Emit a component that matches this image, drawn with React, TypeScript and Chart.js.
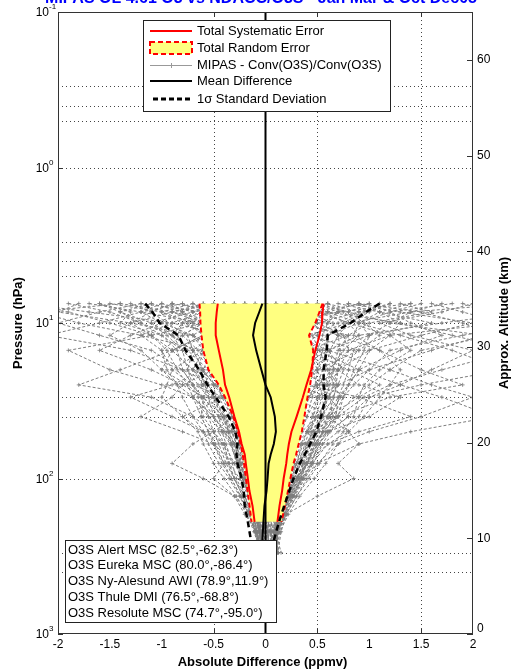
import React, { useEffect, useRef } from "react";
import { Chart, registerables } from "chart.js";

Chart.register(...registerables);

// ---- axis layout values ----
const xTicks = [-2, -1.5, -1, -0.5, 0, 0.5, 1, 1.5, 2];
const xGrid = [-0.5, 0.5, 1.5];
const pDecades = [0.1, 1, 10, 100, 1000];
const pDecadeExp = ["-1", "0", "1", "2", "3"];
const pGrid = [0.3, 0.4, 0.5, 1, 3, 4, 5, 10, 30, 40, 100, 300, 400];
const altTicks = [0, 10, 20, 30, 40, 50, 60];

const title = "MIPAS OL 4.61 O3 vs NDACC/O3S - Jan Mar & Oct Dec05";

// ---- mean difference and 1-sigma spread (ppmv) ----
const statP = [7.5, 8.5, 10, 12, 15, 20, 25, 30, 40, 50, 60, 70, 80, 100, 120, 150, 190, 250];
const meanDiff = [-0.03, -0.06, -0.1, -0.12, -0.09, -0.04, 0.0, 0.05, 0.09, 0.1, 0.08, 0.05, 0.03, 0.02, 0.01, -0.01, -0.02, -0.03];
const stdDev = [1.13, 1.03, 0.92, 0.72, 0.68, 0.6, 0.56, 0.53, 0.445, 0.39, 0.35, 0.33, 0.3, 0.25, 0.22, 0.19, 0.15, 0.11];

// ---- combined error estimates (ppmv) ----
const errP = [7.5, 8.5, 10, 12, 15, 20, 25, 30, 40, 50, 60, 70, 80, 100, 120, 150, 190];
const sysLow = [-0.46, -0.47, -0.48, -0.48, -0.45, -0.41, -0.39, -0.35, -0.3, -0.255, -0.23, -0.2, -0.19, -0.17, -0.155, -0.125, -0.105];
const sysHigh = [0.56, 0.55, 0.545, 0.52, 0.48, 0.44, 0.395, 0.36, 0.3, 0.25, 0.225, 0.21, 0.2, 0.175, 0.16, 0.135, 0.115];
const randLow = [-0.636, -0.63, -0.627, -0.617, -0.6, -0.55, -0.45, -0.39, -0.31, -0.265, -0.24, -0.22, -0.207, -0.188, -0.173, -0.154, -0.135];
const randHigh = [0.55, 0.52, 0.48, 0.42, 0.46, 0.45, 0.43, 0.405, 0.375, 0.35, 0.32, 0.295, 0.27, 0.24, 0.217, 0.188, 0.154];

// ---- individual collocated differences, MIPAS - Conv(O3S) (ppmv) ----
const profileP = [7.5, 8.5, 10, 12, 15, 20, 25, 30, 40, 50, 60, 80, 100, 130, 170, 220, 300];
const profiles = [
  [-1.9, -1.5, -1.2, -0.9, -0.7, -0.5, -0.3, -0.2, -0.15, -0.1, -0.05, -0.02, 0.0, 0.02, 0.05, 0.05, 0.06],
  [1.6, 1.9, 2.3, 1.2, 0.8, 0.6, 0.7, 0.5, 0.4, 0.3, 0.25, 0.2, 0.15, 0.1, 0.08, 0.1, 0.1],
  [-0.6, -0.8, -1.0, -1.3, -1.6, -1.1, -0.8, -0.6, -0.4, -0.3, -0.25, -0.2, -0.15, -0.1, -0.08, -0.05, -0.02],
  [0.9, 0.6, 0.4, 0.7, 1.1, 1.5, 1.9, 1.2, 0.7, 0.5, 0.4, 0.3, 0.2, 0.15, 0.1, 0.08, 0.12],
  [-1.4, -2.2, -1.8, -1.2, -0.6, -0.9, -0.7, -0.4, -0.2, -0.1, 0.0, 0.1, 0.05, 0.0, -0.03, 0.0, 0.02],
  [0.3, 0.1, -0.2, -0.1, 0.2, 0.4, 0.3, 0.6, 0.5, 0.35, 0.2, 0.1, 0.05, 0.08, 0.04, 0.02, 0.05],
  [-0.2, 0.3, 0.6, 0.5, 0.3, 0.2, 0.4, 0.9, 1.4, 0.9, 0.6, 0.4, 0.3, 0.2, 0.15, 0.1, 0.08],
  [2.4, 1.4, 0.8, 0.4, 0.1, -0.2, -0.4, -0.3, -0.1, 0.0, 0.1, 0.15, 0.1, 0.05, 0.02, 0.0, 0.03],
  [-1.0, -0.7, -0.5, -0.6, -0.9, -1.4, -1.8, -1.1, -0.7, -0.5, -0.4, -0.35, -0.25, -0.2, -0.12, -0.08, -0.05],
  [0.5, 0.8, 1.2, 2.1, 1.6, 1.0, 0.7, 0.6, 0.8, 0.6, 0.45, 0.3, 0.25, 0.18, 0.12, 0.1, 0.15],
  [-0.4, -0.3, 0.1, 0.3, 0.0, -0.3, -0.5, -0.6, -0.45, -0.3, -0.2, -0.15, -0.1, -0.05, 0.0, 0.02, 0.0],
  [1.2, 0.9, 0.5, 0.2, 0.5, 0.9, 1.3, 1.7, 2.2, 1.4, 0.9, 0.5, 0.35, 0.25, 0.15, 0.12, 0.1],
  [-2.3, -1.7, -0.9, -0.4, -0.2, 0.1, 0.2, 0.1, 0.0, -0.05, -0.1, -0.08, -0.05, -0.02, 0.0, 0.0, 0.02],
  [0.0, -0.5, -0.8, -0.5, -0.3, -0.1, 0.1, 0.3, 0.2, 0.15, 0.1, 0.05, 0.02, 0.0, -0.02, -0.03, 0.0],
  [0.7, 1.1, 1.6, 1.0, 0.6, 0.3, 0.0, -0.2, -0.3, -0.2, -0.15, -0.1, -0.08, -0.05, -0.02, 0.0, 0.04],
  [-0.8, -1.2, -1.6, -2.1, -1.3, -0.8, -0.5, -0.3, -0.2, -0.25, -0.3, -0.2, -0.12, -0.08, -0.05, -0.04, -0.03],
  [1.8, 1.2, 0.9, 0.6, 0.4, 0.8, 1.1, 0.9, 0.6, 0.4, 0.5, 0.4, 0.3, 0.2, 0.14, 0.1, 0.12],
  [-0.1, 0.2, 0.0, -0.3, -0.5, -0.4, -0.2, 0.0, 0.3, 0.2, 0.1, 0.2, 0.15, 0.1, 0.06, 0.05, 0.08],
  [-1.6, -1.3, -1.4, -1.0, -0.8, -0.6, -0.9, -1.3, -0.9, -0.6, -0.5, -0.3, -0.2, -0.15, -0.1, -0.06, -0.04],
  [0.4, 0.6, 0.9, 1.3, 1.8, 2.3, 1.5, 1.0, 0.9, 0.7, 0.55, 0.4, 0.3, 0.22, 0.16, 0.12, 0.1],
  [-0.5, -0.9, -0.4, 0.0, 0.2, 0.0, -0.3, -0.2, -0.1, 0.05, 0.0, -0.05, -0.02, 0.03, 0.0, 0.02, 0.05],
  [1.0, 0.4, -0.3, -0.6, -0.9, -0.7, -0.3, 0.2, 0.5, 0.4, 0.3, 0.25, 0.2, 0.1, 0.07, 0.05, 0.06],
  [-1.2, -0.6, -0.2, 0.4, 0.9, 0.5, 0.2, 0.4, 0.1, -0.1, -0.2, -0.25, -0.18, -0.12, -0.06, -0.04, -0.02],
  [2.1, 2.5, 1.7, 0.9, 0.6, 0.5, 0.4, 0.3, 0.6, 0.8, 0.6, 0.45, 0.35, 0.25, 0.15, 0.1, 0.1],
  [-0.3, -0.1, 0.3, 0.8, 0.4, 0.1, -0.1, -0.4, -0.8, -0.6, -0.4, -0.3, -0.22, -0.15, -0.1, -0.05, 0.0],
  [0.2, -0.2, -0.6, -1.1, -1.9, -1.5, -1.0, -0.7, -0.5, -0.4, -0.3, -0.25, -0.2, -0.12, -0.08, -0.05, -0.03],
  [0.8, 1.3, 2.0, 1.5, 1.0, 0.7, 0.9, 1.3, 1.0, 0.6, 0.35, 0.3, 0.22, 0.18, 0.1, 0.06, 0.08],
  [-0.9, -0.4, 0.2, 0.1, -0.2, 0.3, 0.6, 0.4, 0.2, 0.25, 0.3, 0.2, 0.1, 0.06, 0.03, 0.02, 0.04],
  [0.1, 0.5, 0.3, -0.2, 0.1, -0.2, 0.0, 0.1, -0.05, 0.1, 0.15, 0.1, 0.08, 0.04, 0.02, 0.01, 0.03],
  [-1.8, -2.0, -1.3, -0.7, -0.4, -0.3, -0.1, 0.1, 0.15, 0.0, -0.1, -0.12, -0.08, -0.04, -0.02, 0.0, 0.01],
  [1.4, 0.7, 0.2, -0.1, 0.3, 0.7, 0.5, -0.1, -0.4, -0.35, -0.2, -0.1, -0.05, -0.02, 0.02, 0.04, 0.06],
  [-0.7, -1.0, -0.7, -0.2, 0.6, 1.2, 1.6, 2.0, 1.5, 1.0, 0.7, 0.5, 0.4, 0.3, 0.2, 0.15, 0.12],
  [0.3, 0.0, -0.4, -0.2, 0.1, 0.0, 0.2, 0.0, -0.3, -0.5, -0.7, -0.9, -0.6, -0.3, -0.15, -0.05, 0.0],
  [-0.2, 0.1, 0.4, 0.2, -0.1, 0.2, 0.3, 0.5, 0.7, 0.8, 0.9, 0.7, 0.85, 0.5, 0.2, 0.1, 0.12],
  [0.6, 0.3, 0.0, 0.1, -0.3, -0.5, -0.8, -0.9, -1.2, -0.8, -0.5, -0.4, -0.5, -0.3, -0.2, -0.08, -0.03],
  [-0.9, -0.8, -0.7, -0.6, -0.5, -0.45, -0.35, -0.3, -0.25, -0.2, -0.18, -0.15, -0.12, -0.08, -0.05, -0.03, 0.0],
  [0.8, 0.7, 0.6, 0.55, 0.5, 0.45, 0.5, 0.45, 0.4, 0.35, 0.3, 0.25, 0.2, 0.15, 0.12, 0.08, 0.06],
  [-1.3, -1.1, -0.95, -0.75, -0.7, -0.6, -0.5, -0.4, -0.32, -0.27, -0.24, -0.2, -0.18, -0.14, -0.1, -0.06, -0.02],
  [1.1, 0.95, 0.75, 0.6, 0.58, 0.55, 0.6, 0.62, 0.5, 0.42, 0.38, 0.32, 0.26, 0.2, 0.14, 0.1, 0.08],
  [-0.2, -0.4, -0.6, -0.8, -0.65, -0.5, -0.42, -0.35, -0.28, -0.22, -0.2, -0.16, -0.14, -0.1, -0.07, -0.04, -0.01],
  [0.2, 0.4, 0.65, 0.7, 0.62, 0.58, 0.52, 0.55, 0.48, 0.4, 0.36, 0.3, 0.25, 0.18, 0.12, 0.09, 0.07],
  [-1.5, -1.0, -0.8, -0.85, -0.75, -0.55, -0.4, -0.45, -0.35, -0.3, -0.26, -0.22, -0.17, -0.12, -0.08, -0.05, -0.02],
  [1.3, 1.6, 1.0, 0.8, 0.7, 0.65, 0.58, 0.5, 0.45, 0.4, 0.34, 0.28, 0.24, 0.17, 0.11, 0.07, 0.05],
  [-0.7, -0.5, -0.3, -0.45, -0.6, -0.7, -0.6, -0.5, -0.38, -0.32, -0.28, -0.23, -0.19, -0.13, -0.09, -0.05, -0.02],
  [0.5, 0.2, 0.0, 0.3, 0.6, 0.75, 0.7, 0.65, 0.55, 0.45, 0.4, 0.34, 0.28, 0.2, 0.13, 0.08, 0.06],
  [-1.1, -1.4, -1.1, -0.9, -0.7, -0.75, -0.65, -0.55, -0.42, -0.35, -0.3, -0.25, -0.2, -0.15, -0.1, -0.06, -0.03],
  [1.5, 1.2, 1.4, 1.7, 1.3, 0.9, 0.8, 0.7, 0.6, 0.5, 0.42, 0.36, 0.3, 0.22, 0.15, 0.1, 0.07],
  [-0.3, -0.7, -1.1, -0.95, -0.8, -0.62, -0.48, -0.38, -0.3, -0.26, -0.22, -0.18, -0.15, -0.11, -0.07, -0.04, 0.0],
  [0.6, 0.9, 0.7, 0.45, 0.52, 0.6, 0.66, 0.72, 0.62, 0.5, 0.44, 0.37, 0.3, 0.21, 0.14, 0.09, 0.07],
  [-2.5, -1.9, -1.5, -1.1, -0.9, -0.7, -0.55, -0.5, -0.4, -0.33, -0.28, -0.24, -0.19, -0.13, -0.09, -0.05, -0.02],
  [1.9, 2.2, 2.6, 1.9, 1.2, 1.0, 0.85, 0.75, 0.65, 0.52, 0.46, 0.38, 0.31, 0.23, 0.15, 0.1, 0.08],
  [-0.5, -0.2, -0.5, -0.7, -0.55, -0.35, -0.28, -0.25, -0.22, -0.16, -0.12, -0.1, -0.09, -0.06, -0.04, -0.02, 0.01],
  [0.1, 0.35, 0.5, 0.35, 0.42, 0.5, 0.48, 0.42, 0.36, 0.3, 0.27, 0.22, 0.19, 0.13, 0.09, 0.06, 0.05],
  [-1.7, -1.2, -0.6, -0.3, -0.35, -0.5, -0.6, -0.7, -0.55, -0.42, -0.34, -0.27, -0.21, -0.15, -0.1, -0.06, -0.03],
  [0.0, 0.6, 1.3, 1.8, 2.4, 1.7, 1.2, 0.95, 0.7, 0.55, 0.48, 0.4, 0.32, 0.24, 0.16, 0.11, 0.09],
  [-0.4, -0.6, -0.9, -1.2, -1.0, -0.95, -0.85, -0.7, -0.5, -0.38, -0.32, -0.26, -0.22, -0.16, -0.11, -0.07, -0.04],
  [1.0, 0.8, 0.95, 1.1, 0.9, 0.7, 0.62, 0.58, 0.52, 0.46, 0.4, 0.33, 0.27, 0.19, 0.12, 0.08, 0.06],
  [-0.1, -0.3, -0.2, 0.1, -0.1, -0.25, -0.15, -0.05, 0.05, 0.1, 0.12, 0.08, 0.04, 0.02, 0.0, -0.01, 0.0],
  [0.4, 0.0, 0.2, 0.0, 0.25, 0.35, 0.2, 0.3, 0.25, 0.22, 0.18, 0.14, 0.1, 0.07, 0.05, 0.03, 0.02],
  [-1.2, -1.6, -2.0, -1.6, -1.1, -0.8, -0.7, -0.6, -0.45, -0.36, -0.3, -0.24, -0.19, -0.14, -0.09, -0.05, -0.02],
  [2.0, 1.7, 1.1, 1.4, 2.0, 1.6, 1.3, 1.0, 0.8, 0.62, 0.5, 0.4, 0.33, 0.24, 0.16, 0.11, 0.08],
  [-0.6, -0.4, -0.55, -0.35, -0.4, -0.52, -0.46, -0.42, -0.33, -0.28, -0.25, -0.2, -0.16, -0.12, -0.08, -0.05, -0.02],
  [0.3, 0.55, 0.8, 0.9, 0.75, 0.62, 0.56, 0.6, 0.55, 0.47, 0.41, 0.34, 0.28, 0.2, 0.13, 0.09, 0.07],
  [-1.4, -0.9, -1.3, -1.5, -1.2, -1.0, -0.75, -0.62, -0.5, -0.4, -0.33, -0.27, -0.22, -0.16, -0.1, -0.06, -0.03],
  [0.9, 1.5, 1.9, 2.2, 1.5, 1.2, 1.0, 0.85, 0.68, 0.56, 0.48, 0.39, 0.32, 0.23, 0.15, 0.1, 0.08],
  [-0.5, -0.7, -0.8, -0.9, -0.8, -0.75, -0.7, -0.65, -0.6, -0.5, -0.45, -0.38, -0.3, -0.22, -0.15, -0.1, -0.05],
  [0.6, 0.75, 0.9, 1.0, 0.95, 0.85, 0.8, 0.75, 0.7, 0.62, 0.55, 0.46, 0.38, 0.28, 0.2, 0.13, 0.08],
  [-0.8, -0.6, -0.4, -0.55, -0.9, -1.0, -0.85, -0.8, -0.7, -0.6, -0.55, -0.45, -0.35, -0.25, -0.16, -0.1, -0.04],
  [0.2, 0.5, 0.8, 1.2, 1.4, 1.1, 0.95, 0.9, 0.85, 0.75, 0.65, 0.52, 0.42, 0.3, 0.2, 0.12, 0.09],
  [-1.0, -1.2, -1.0, -0.7, -0.6, -0.65, -0.58, -0.55, -0.5, -0.45, -0.4, -0.35, -0.3, -0.2, -0.13, -0.08, -0.04],
  [1.2, 1.0, 0.8, 0.7, 0.72, 0.7, 0.68, 0.66, 0.6, 0.55, 0.5, 0.45, 0.36, 0.26, 0.18, 0.12, 0.1],
  [-0.3, -0.5, -0.75, -0.6, -0.45, -0.55, -0.5, -0.48, -0.45, -0.42, -0.38, -0.32, -0.28, -0.2, -0.14, -0.09, -0.05],
  [0.4, 0.3, 0.45, 0.6, 0.55, 0.5, 0.55, 0.58, 0.56, 0.5, 0.46, 0.4, 0.34, 0.26, 0.18, 0.12, 0.09],
  [-1.6, -1.4, -1.2, -1.0, -0.85, -0.8, -0.7, -0.62, -0.55, -0.5, -0.42, -0.36, -0.3, -0.22, -0.14, -0.09, -0.04],
  [1.7, 1.4, 1.2, 1.0, 0.85, 0.8, 0.75, 0.7, 0.68, 0.6, 0.52, 0.44, 0.37, 0.27, 0.19, 0.12, 0.1],
  [-0.2, 0.0, -0.3, -0.5, -0.7, -0.6, -0.55, -0.6, -0.62, -0.55, -0.5, -0.42, -0.33, -0.24, -0.15, -0.09, -0.04],
  [0.0, 0.2, 0.5, 0.75, 0.8, 0.7, 0.65, 0.62, 0.65, 0.58, 0.52, 0.43, 0.35, 0.27, 0.18, 0.12, 0.1],
  [-0.9, -1.1, -1.3, -1.1, -0.95, -0.85, -0.75, -0.7, -0.62, -0.55, -0.48, -0.4, -0.33, -0.24, -0.16, -0.1, -0.05],
  [0.9, 1.1, 1.3, 1.2, 1.0, 0.9, 0.8, 0.72, 0.62, 0.55, 0.48, 0.4, 0.34, 0.25, 0.17, 0.11, 0.09],
  [-0.6, -0.9, -0.6, -0.4, -0.5, -0.6, -0.62, -0.52, -0.4, -0.36, -0.33, -0.28, -0.24, -0.17, -0.12, -0.08, -0.04],
  [0.5, 0.7, 0.55, 0.5, 0.62, 0.66, 0.6, 0.52, 0.46, 0.44, 0.42, 0.36, 0.3, 0.22, 0.15, 0.1, 0.08],
  [-1.1, -0.8, -0.6, -0.8, -1.0, -0.9, -0.95, -1.0, -0.8, -0.65, -0.6, -0.5, -0.4, -0.28, -0.18, -0.11, -0.05],
  [1.4, 1.1, 0.9, 0.85, 1.1, 1.3, 1.2, 1.1, 0.95, 0.8, 0.7, 0.58, 0.47, 0.33, 0.22, 0.14, 0.1],
  [-0.4, -0.2, 0.0, 0.2, 0.4, 0.55, 0.5, 0.4, 0.3, 0.2, 0.15, 0.1, 0.05, 0.03, 0.01, 0.0, 0.02],
  [0.1, -0.1, -0.3, -0.2, -0.4, -0.3, -0.25, -0.2, -0.1, -0.05, 0.0, 0.05, 0.08, 0.06, 0.04, 0.02, 0.03],
];

// ---- legend texts ----
const seriesNames = [
  "Total Systematic Error",
  "Total Random Error",
  "MIPAS - Conv(O3S)/Conv(O3S)",
  "Mean Difference",
  "1\u03c3 Standard Deviation",
];
const stations = [
  "O3S Alert MSC (82.5\u00b0,-62.3\u00b0)",
  "O3S Eureka MSC (80.0\u00b0,-86.4\u00b0)",
  "O3S Ny-Alesund AWI (78.9\u00b0,11.9\u00b0)",
  "O3S Thule DMI (76.5\u00b0,-68.8\u00b0)",
  "O3S Resolute MSC (74.7\u00b0,-95.0\u00b0)",
];

const FONT = '"Liberation Sans", Arial, sans-serif';
const RED = "#ff0000";
const YELLOW = "#ffff80";
const GREY = "#7d7d7d";

const pts = (xs: number[], ps: number[]) => xs.map((x, i) => ({ x, y: ps[i] }));

const axesPlugin = {
  id: "axesDecor",
  beforeDatasetsDraw(chart: any) {
    const { ctx, chartArea: a, scales } = chart;
    const x = scales.x;
    const y = scales.y;
    ctx.save();
    ctx.strokeStyle = "#444";
    ctx.lineWidth = 1;
    ctx.setLineDash([1, 3]);
    pGrid.forEach((p) => {
      const py = Math.round(y.getPixelForValue(p)) + 0.5;
      ctx.beginPath();
      ctx.moveTo(a.left, py);
      ctx.lineTo(a.right, py);
      ctx.stroke();
    });
    xGrid.forEach((v) => {
      const px = Math.round(x.getPixelForValue(v)) + 0.5;
      ctx.beginPath();
      ctx.moveTo(px, a.top);
      ctx.lineTo(px, a.bottom);
      ctx.stroke();
    });
    ctx.restore();
  },
  afterDatasetsDraw(chart: any) {
    const { ctx, chartArea: a, scales } = chart;
    const x = scales.x;
    const y = scales.y;
    const alt = scales.alt;
    ctx.save();

    // frame
    ctx.strokeStyle = "#333";
    ctx.lineWidth = 1;
    ctx.setLineDash([]);
    ctx.strokeRect(a.left + 0.5, a.top + 0.5, a.right - a.left - 1, a.bottom - a.top - 1);

    // tick marks
    ctx.beginPath();
    xGrid.forEach((v) => {
      const px = Math.round(x.getPixelForValue(v)) + 0.5;
      ctx.moveTo(px, a.bottom);
      ctx.lineTo(px, a.bottom - 5);
      ctx.moveTo(px, a.top);
      ctx.lineTo(px, a.top + 5);
    });
    pDecades.forEach((p) => {
      const py = Math.round(y.getPixelForValue(p)) + 0.5;
      ctx.moveTo(a.left, py);
      ctx.lineTo(a.left + 5, py);
    });
    altTicks.forEach((h) => {
      const py = Math.round(alt.getPixelForValue(h)) + 0.5;
      ctx.moveTo(a.right, py);
      ctx.lineTo(a.right - 6, py);
    });
    ctx.stroke();

    // x tick labels
    ctx.fillStyle = "#000";
    ctx.font = `12px ${FONT}`;
    ctx.textAlign = "center";
    ctx.textBaseline = "middle";
    xTicks.forEach((v) => {
      ctx.fillText(String(v), x.getPixelForValue(v), a.bottom + 11);
    });

    // pressure decade labels
    pDecades.forEach((p, i) => {
      const py = y.getPixelForValue(p);
      ctx.font = `12px ${FONT}`;
      ctx.textAlign = "right";
      ctx.fillText("10", a.left - 9, py + 1);
      ctx.font = `8px ${FONT}`;
      ctx.textAlign = "left";
      ctx.fillText(pDecadeExp[i], a.left - 9, py - 5);
    });

    // altitude labels
    ctx.font = `12px ${FONT}`;
    ctx.textAlign = "left";
    altTicks.forEach((h) => {
      const py = alt.getPixelForValue(h);
      ctx.fillText(String(h), a.right + 4, h === 0 ? py - 5 : py);
    });

    // axis titles
    ctx.font = `bold 13px ${FONT}`;
    ctx.textAlign = "center";
    ctx.fillText("Absolute Difference (ppmv)", (a.left + a.right) / 2 - 3, a.bottom + 28);
    const midY = (a.top + a.bottom) / 2;
    ctx.save();
    ctx.translate(18, midY);
    ctx.rotate(-Math.PI / 2);
    ctx.fillText("Pressure (hPa)", 0, 0);
    ctx.restore();
    ctx.save();
    ctx.translate(504, midY);
    ctx.rotate(-Math.PI / 2);
    ctx.fillText("Approx. Altitude (km)", 0, 0);
    ctx.restore();

    // title, running off the top edge
    ctx.font = `bold 16px ${FONT}`;
    ctx.fillStyle = "#0000ff";
    ctx.textBaseline = "alphabetic";
    ctx.fillText(title, 261, 3);

    // series legend
    const lx = 143, ly = 20, lw = 247, lh = 91;
    ctx.fillStyle = "#fff";
    ctx.fillRect(lx, ly, lw, lh);
    ctx.strokeStyle = "#222";
    ctx.lineWidth = 1;
    ctx.strokeRect(lx + 0.5, ly + 0.5, lw, lh);
    const rowY = [31, 48, 65, 81, 99];
    const sx0 = 150, sx1 = 192;
    // systematic
    ctx.strokeStyle = RED;
    ctx.lineWidth = 2;
    ctx.beginPath(); ctx.moveTo(sx0, rowY[0]); ctx.lineTo(sx1, rowY[0]); ctx.stroke();
    // random
    ctx.fillStyle = YELLOW;
    ctx.fillRect(sx0, rowY[1] - 6, sx1 - sx0, 12);
    ctx.setLineDash([5, 3]);
    ctx.strokeRect(sx0, rowY[1] - 6, sx1 - sx0, 12);
    ctx.setLineDash([]);
    // individual differences
    ctx.strokeStyle = "#999";
    ctx.lineWidth = 1;
    ctx.beginPath();
    ctx.moveTo(sx0, rowY[2] + 0.5); ctx.lineTo(sx1, rowY[2] + 0.5);
    ctx.moveTo(171.5, rowY[2] - 2); ctx.lineTo(171.5, rowY[2] + 3);
    ctx.stroke();
    // mean
    ctx.strokeStyle = "#000";
    ctx.lineWidth = 2;
    ctx.beginPath(); ctx.moveTo(sx0, rowY[3]); ctx.lineTo(sx1, rowY[3]); ctx.stroke();
    // std
    ctx.lineWidth = 3;
    ctx.setLineDash([5, 3]);
    ctx.beginPath(); ctx.moveTo(sx0 + 3, rowY[4]); ctx.lineTo(sx1, rowY[4]); ctx.stroke();
    ctx.setLineDash([]);
    ctx.fillStyle = "#000";
    ctx.font = `13px ${FONT}`;
    ctx.textAlign = "left";
    ctx.textBaseline = "middle";
    seriesNames.forEach((s, i) => ctx.fillText(s, 197, rowY[i]));

    // station legend
    const bx = 65, by = 540, bw = 211, bh = 82;
    ctx.fillStyle = "#fff";
    ctx.fillRect(bx, by, bw, bh);
    ctx.strokeStyle = "#222";
    ctx.lineWidth = 1;
    ctx.strokeRect(bx + 0.5, by + 0.5, bw, bh);
    ctx.fillStyle = "#000";
    ctx.font = `13px ${FONT}`;
    stations.forEach((s, i) => ctx.fillText(s, 68, 550 + i * 15.8));

    ctx.restore();
  },
};

export default function App() {
  const ref = useRef<HTMLCanvasElement | null>(null);

  useEffect(() => {
    if (!ref.current) return;

    const greyDatasets = profiles.map((v) => ({
      data: pts(v, profileP),
      showLine: true,
      borderColor: GREY,
      borderWidth: 1,
      borderDash: [3, 2],
      pointStyle: "cross",
      pointRadius: 2,
      pointBorderColor: GREY,
      pointBorderWidth: 0.8,
      order: 10,
    }));

    const bandPoints = [
      ...pts(randLow, errP),
      ...pts(randHigh, errP).reverse(),
    ];

    const lineDs = (data: any[], color: string, width: number, dash: number[], order: number) => ({
      data,
      showLine: true,
      borderColor: color,
      borderWidth: width,
      borderDash: dash,
      pointRadius: 0,
      fill: false,
      order,
    });

    const meanMinus = meanDiff.map((m, i) => m - stdDev[i]);
    const meanPlus = meanDiff.map((m, i) => m + stdDev[i]);

    const chart = new Chart(ref.current, {
      type: "scatter",
      data: {
        datasets: [
          ...greyDatasets,
          {
            data: bandPoints,
            showLine: true,
            borderWidth: 0,
            borderColor: "rgba(0,0,0,0)",
            backgroundColor: YELLOW,
            pointRadius: 0,
            fill: "shape",
            order: 9,
          },
          lineDs(pts(randLow, errP), RED, 2, [5, 3], 8),
          lineDs(pts(randHigh, errP), RED, 2, [5, 3], 8),
          lineDs(pts(sysLow, errP), RED, 2, [], 7),
          lineDs(pts(sysHigh, errP), RED, 2, [], 7),
          lineDs([{ x: 0, y: 0.1 }, { x: 0, y: 1000 }], "#000", 2, [], 6),
          lineDs(pts(meanDiff, statP), "#000", 2, [], 5),
          lineDs(pts(meanMinus, statP), "#000", 2.5, [6, 4], 4),
          lineDs(pts(meanPlus, statP), "#000", 2.5, [6, 4], 4),
        ] as any,
      },
      options: {
        animation: false,
        responsive: false,
        maintainAspectRatio: false,
        layout: { padding: { left: 58, right: 41, top: 12, bottom: 37 } },
        elements: { line: { tension: 0 } },
        scales: {
          x: { type: "linear", min: -2, max: 2, display: false },
          y: { type: "logarithmic", min: 0.1, max: 1000, reverse: true, display: false },
          alt: { type: "linear", axis: "y", position: "right", min: 0, max: 65, display: false },
        },
        plugins: {
          legend: { display: false },
          tooltip: { enabled: false },
        },
      } as any,
      plugins: [axesPlugin],
    });

    return () => chart.destroy();
  }, []);

  return (
    <div style={{ position: "absolute", left: 0, top: 0, width: 514, height: 671, background: "#fff" }}>
      <canvas ref={ref} width={514} height={671} style={{ display: "block" }} />
    </div>
  );
}
